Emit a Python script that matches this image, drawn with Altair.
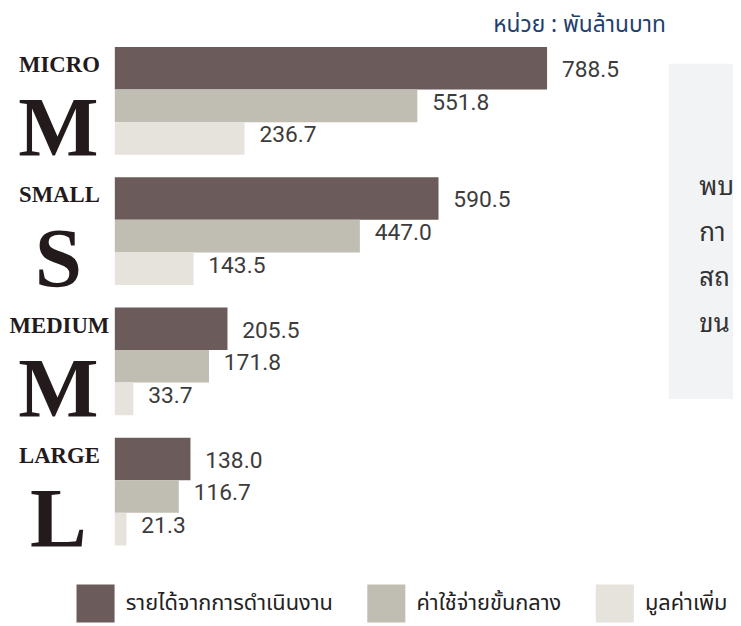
import altair as alt
import pandas as pd

# ---- data ----
groups = ["MICRO", "SMALL", "MEDIUM", "LARGE"]
letters = ["M", "S", "M", "L"]
series = ["รายได้จากการดำเนินงาน", "ค่าใช้จ่ายขั้นกลาง", "มูลค่าเพิ่ม"]
revenue = [788.5, 590.5, 205.5, 138.0]
intermediate = [551.8, 447.0, 171.8, 116.7]
value_added = [236.7, 143.5, 33.7, 21.3]
colors = ["#6b5b5a", "#c0bdb2", "#e6e3dd"]
unit_text = "หน่วย : พันล้านบาท"
note_lines = ["พบ", "กา", "สถ", "ขน"]

rows = []
for s, vals in zip(series, [revenue, intermediate, value_added]):
    for g, v in zip(groups, vals):
        rows.append({"group": g, "series": s, "value": v, "label": f"{v:.1f}"})
df = pd.DataFrame(rows)
gdf = pd.DataFrame({"group": groups, "letter": letters})

W, H = 733, 618
xscale = alt.Scale(domain=[0, max(revenue)], range=[108, 545])
yscale = alt.Scale(domain=groups, range=[36, 540], paddingInner=0.172, paddingOuter=0)
cscale = alt.Scale(domain=series, range=colors)

thai_font = "Noto Sans Thai, Noto Sans, sans-serif"

legend = alt.Legend(
    orient="none", legendX=69, legendY=579, direction="horizontal", title=None,
    symbolType="square", symbolSize=1480, symbolStrokeWidth=0, symbolOpacity=1,
    labelFontSize=22, labelFont=thai_font, labelColor="#222222",
    labelOffset=11, columnPadding=34, labelLimit=400,
)

bar_heights = [43, 33, 33]
bar_offsets = [-33, 5, 38]
label_offsets = [-31, 2, 35]

layers = []
for i, s in enumerate(series):
    sub = alt.Chart(df).transform_filter(alt.datum.series == s)
    layers.append(
        sub.mark_bar(height=bar_heights[i], yOffset=bar_offsets[i]).encode(
            x=alt.X("value:Q", scale=xscale, axis=None),
            y=alt.Y("group:N", scale=yscale, axis=None),
            color=alt.Color("series:N", scale=cscale, legend=legend),
        )
    )
for i, s in enumerate(series):
    sub = alt.Chart(df).transform_filter(alt.datum.series == s)
    layers.append(
        sub.mark_text(align="left", baseline="middle", dx=15, yOffset=label_offsets[i],
                      fontSize=23, font="Roboto", color="#3c3c3c").encode(
            x=alt.X("value:Q", scale=xscale, axis=None),
            y=alt.Y("group:N", scale=yscale, axis=None),
            text="label:N",
        )
    )

# category labels
layers.append(
    alt.Chart(gdf).mark_text(font="Liberation Serif", fontWeight="bold", fontSize=23,
                             align="center", baseline="middle", yOffset=-36, color="#231a1c").encode(
        x=alt.value(52), y=alt.Y("group:N", scale=yscale, axis=None), text="group:N")
)
layers.append(
    alt.Chart(gdf).mark_text(font="Liberation Serif", fontWeight="bold", fontSize=86,
                             align="center", baseline="alphabetic", yOffset=56, color="#231a1c").encode(
        x=alt.value(51), y=alt.Y("group:N", scale=yscale, axis=None), text="letter:N")
)

# unit text
layers.append(
    alt.Chart(pd.DataFrame({"t": [unit_text]})).mark_text(
        align="right", baseline="middle", fontSize=23, color="#1f3f6e", font=thai_font).encode(
        x=alt.value(665), y=alt.value(14), text="t:N")
)

# side panel
layers.append(
    alt.Chart(pd.DataFrame({"a": [0]})).mark_rect(color="#f2f3f5").encode(
        x=alt.value(668), x2=alt.value(800), y=alt.value(53), y2=alt.value(392))
)
layers.append(
    alt.Chart(pd.DataFrame({"t": ["\n".join(note_lines)]})).mark_text(
        align="left", baseline="middle", fontSize=26, lineHeight=46, lineBreak="\n",
        color="#333333", font="Noto Sans Thai Looped, Noto Sans Thai, sans-serif").encode(
        x=alt.value(699), y=alt.value(178), text="t:N")
)

chart = alt.layer(*layers).properties(
    width=W, height=H,
    autosize=alt.AutoSizeParams(type="none"),
    padding=0,
    background="white",
).configure_view(stroke=None)

chart.save("out.html", embed_options={"renderer": "svg", "actions": False})
